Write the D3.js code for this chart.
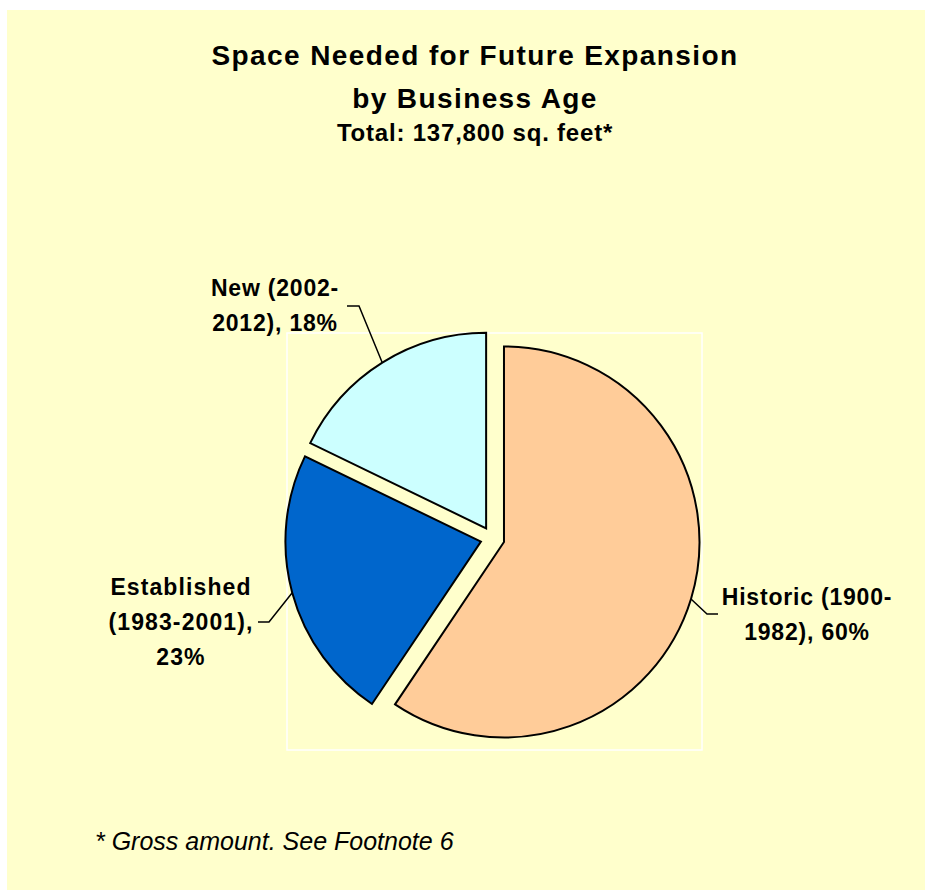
<!DOCTYPE html>
<html>
<head>
<meta charset="utf-8">
<script src="https://cdn.jsdelivr.net/npm/d3@7/dist/d3.min.js"></script>
<style>
  html, body { margin: 0; padding: 0; background: #ffffff; }
  svg { display: block; }
  text { font-family: "Liberation Sans", Arial, Helvetica, sans-serif; fill: #000; }
</style>
</head>
<body>
<svg id="chart" width="925" height="890"></svg>
<script>
// Share of space needed for future expansion, by business age group
const categories = ["Historic (1900-1982)", "Established (1983-2001)", "New (2002-2012)"];
const values = [60, 23, 18];
const titleLines = ["Space Needed for Future Expansion", "by Business Age"];
const subtitle = "Total: 137,800 sq. feet*";
const footnote = "* Gross amount. See Footnote 6";

// Slice fills, in category order
const palette = ["#FFCC99", "#0066CC", "#CCFFFF"];

// Layout
const W = 925, H = 890;
const cx = 492.5, cy = 538.5;       // pie centre
const radius = 195.5;
const explode = 12;                 // every slice is pulled out from the centre

// Data label layout: where each wrapped label sits, and the leader elbow
const labelLayout = [
  { x: 807, y: 605, elbow: [707, 614], end: [718, 614], breakAfter: "(1900-", pctOwnLine: false },
  { x: 181, y: 595, elbow: [269, 622], end: [258, 622], breakAfter: "Established", pctOwnLine: true },
  { x: 275, y: 296, elbow: [359, 306], end: [347, 306], breakAfter: "(2002-", pctOwnLine: false }
];
const lineGap = 35;

const svg = d3.select("#chart");

// Chart area background
svg.append("rect")
  .attr("x", 7).attr("y", 10)
  .attr("width", W - 7).attr("height", H - 10)
  .attr("fill", "#FFFFCC");

// Titles
const title = svg.append("g").attr("text-anchor", "middle");
title.selectAll("text.t")
  .data(titleLines)
  .join("text")
  .attr("class", "t")
  .attr("x", 475)
  .attr("y", (d, i) => 65 + i * 43)
  .attr("font-size", 28)
  .attr("font-weight", "bold")
  .attr("letter-spacing", 1.4)
  .text(d => d);
title.append("text")
  .attr("x", 475).attr("y", 141)
  .attr("font-size", 24)
  .attr("font-weight", "bold")
  .attr("letter-spacing", 0.8)
  .text(subtitle);

// Plot area outline
svg.append("rect")
  .attr("x", cx - 205.5).attr("y", cy - 205.5)
  .attr("width", 415).attr("height", 417)
  .attr("fill", "none")
  .attr("stroke", "#ffffff")
  .attr("stroke-width", 1.5);

const pie = d3.pie().sort(null).startAngle(0).endAngle(2 * Math.PI);
const arcs = pie(values);
const arc = d3.arc().innerRadius(0).outerRadius(radius);

const dir = a => [Math.sin(a), -Math.cos(a)];

const slices = svg.append("g").attr("transform", `translate(${cx},${cy})`);
slices.selectAll("path")
  .data(arcs)
  .join("path")
  .attr("transform", d => {
    const m = (d.startAngle + d.endAngle) / 2;
    const [ux, uy] = dir(m);
    return `translate(${ux * explode},${uy * explode})`;
  })
  .attr("d", arc)
  .attr("fill", (d, i) => palette[i])
  .attr("stroke", "#000")
  .attr("stroke-width", 2)
  .attr("stroke-linejoin", "miter");

// Leader lines from each slice's outer edge to its label
arcs.forEach((d, i) => {
  const L = labelLayout[i];
  const m = (d.startAngle + d.endAngle) / 2;
  const [ux, uy] = dir(m);
  const sx = cx + ux * (explode + radius);
  const sy = cy + uy * (explode + radius);
  svg.append("polyline")
    .attr("points", [[sx, sy], L.elbow, L.end].map(p => p.join(",")).join(" "))
    .attr("fill", "none")
    .attr("stroke", "#000")
    .attr("stroke-width", 1.5);

  // Wrapped label: "<category>, <value>%"
  const cat = categories[i];
  const pct = values[i] + "%";
  const cut = cat.indexOf(L.breakAfter) + L.breakAfter.length;
  const lines = [cat.slice(0, cut).trim()];
  const rest = cat.slice(cut).trim() + ",";
  if (L.pctOwnLine) { lines.push(rest, pct); } else { lines.push(rest + " " + pct); }

  svg.append("g").attr("text-anchor", "middle")
    .selectAll("text")
    .data(lines)
    .join("text")
    .attr("x", L.x)
    .attr("y", (t, j) => L.y + j * lineGap)
    .attr("font-size", 23)
    .attr("font-weight", "bold")
    .attr("letter-spacing", i === 1 ? 1.1 : 0.8)
    .text(t => t);
});

// Footnote
svg.append("text")
  .attr("x", 95).attr("y", 850)
  .attr("font-size", 25)
  .attr("font-style", "italic")
  .text(footnote);
</script>
</body>
</html>
